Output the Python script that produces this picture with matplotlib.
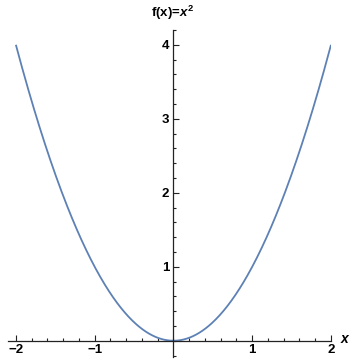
import numpy as np
import matplotlib
matplotlib.use("Agg")
import matplotlib.pyplot as plt
from matplotlib.ticker import MultipleLocator, FixedLocator

plt.rcParams.update({
    "font.family": ["Liberation Sans", "DejaVu Sans"],
    "font.weight": "bold",
    "mathtext.fontset": "custom",
    "mathtext.it": "Liberation Sans:bold:italic",
    "mathtext.rm": "Liberation Sans:bold",
    "axes.unicode_minus": True,
})

# domain of f(x) = x^2
x_domain = [-2.0, 2.0]
x_ticks = [-2, -1, 1, 2]
y_ticks = [1, 2, 3, 4]

x = np.linspace(x_domain[0], x_domain[1], 401)
y = x ** 2

fig = plt.figure(figsize=(3.54, 3.59), dpi=100)
W, H = 354, 359
# axes box in pixels: left 8, right 331, top 30, bottom 357
ax = fig.add_axes([8 / W, (H - 357) / H, (331 - 8) / W, (357 - 30) / H])

ax.plot(x, y, color="#5E81B5", linewidth=1.3, solid_capstyle="butt")

ax.set_xlim(-2.1, 2.0)
ax.set_ylim(-0.22, 4.2)

for side in ("top", "right"):
    ax.spines[side].set_visible(False)
for side in ("left", "bottom"):
    ax.spines[side].set_position(("data", 0))
    ax.spines[side].set_color("#222222")
    ax.spines[side].set_linewidth(0.9)

ax.xaxis.set_major_locator(FixedLocator(x_ticks))
ax.yaxis.set_major_locator(FixedLocator(y_ticks))
ax.xaxis.set_minor_locator(MultipleLocator(0.2))
ax.yaxis.set_minor_locator(MultipleLocator(0.2))
ax.set_xticklabels(["\u22122", "\u22121", "1", "2"])
ax.set_yticklabels(["1", "2", "3", "4"])

ax.tick_params(which="both", direction="in", color="#222222", width=0.8)
ax.tick_params(which="major", length=4, labelsize=9.5, pad=2.5)
ax.tick_params(which="minor", length=2.3)
ax.tick_params(axis="y", which="major", pad=3)

ax.patch.set_alpha(0)

fig.text(173 / W, 1 - 13 / H, "f(x)=$x^2$", ha="center", va="center",
         fontsize=9.5, fontweight="bold")
fig.text(345 / W, 1 - 339 / H, "$x$", ha="center", va="center", fontsize=10)

fig.savefig("out.png", dpi=100)
